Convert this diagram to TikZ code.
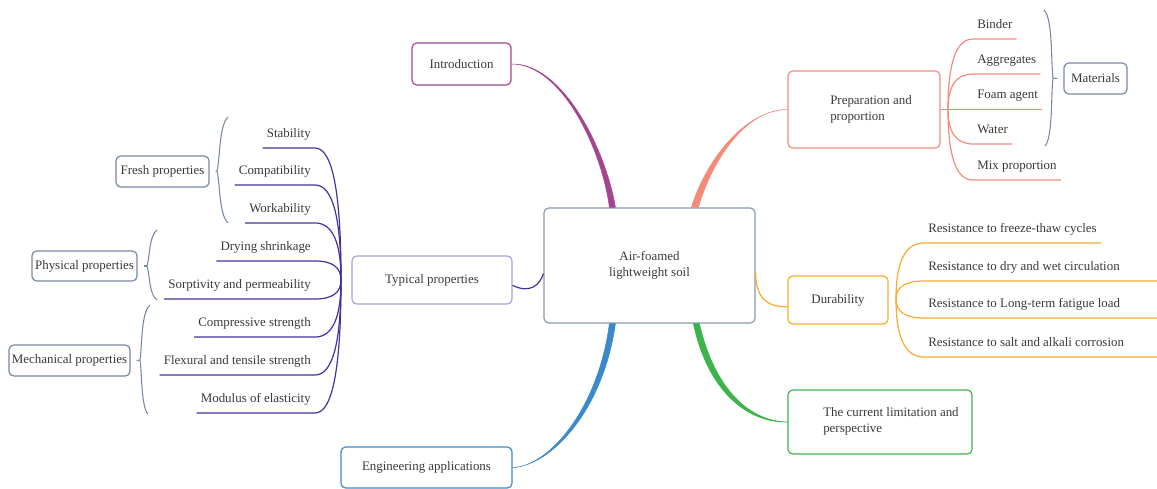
\documentclass[tikz,border=0pt]{standalone}
\usepackage{fontspec}
\setmainfont{Liberation Serif}
\usetikzlibrary{calc}

\definecolor{rootcol}{HTML}{8899AD}
\definecolor{introcol}{HTML}{A3468F}
\definecolor{prepcol}{HTML}{F48B79}
\definecolor{durcol}{HTML}{F8AA2C}
\definecolor{limcol}{HTML}{3CB44B}
\definecolor{engcol}{HTML}{3A8ACB}
\definecolor{typcol}{HTML}{A99ED6}
\definecolor{typline}{HTML}{40349A}
\definecolor{slate}{HTML}{7689A0}
\definecolor{textgray}{HTML}{383838}

\begin{document}
\begin{tikzpicture}[
    x=0.75pt, y=-0.75pt,
    every node/.style={font=\fontsize{9.7}{12}\selectfont, text=textgray},
    box/.style={draw, rounded corners=3.5pt, line width=0.9pt, inner sep=0pt, align=center},
    leaf/.style={inner xsep=3pt, inner ysep=6pt, text height=7pt, text depth=2pt},
    twig/.style={line width=0.9pt},
    bend to/.style={to path={.. controls ($(\tikztostart)!.67!(\tikztostart |- \tikztotarget)$)
        and ($(\tikztotarget)!.67!(\tikztostart |- \tikztotarget)$) .. (\tikztotarget)}},
    brace/.style={slate, line width=0.8pt}]
    \useasboundingbox (0,0) rectangle (1157,489);

    % Kaesten
    \node[box, draw=rootcol, minimum width=158.25pt, minimum height=86.25pt] (soil) at (649.5,265.5) {Air-foamed\\lightweight soil};
    \node[box, draw=introcol, minimum width=74.25pt, minimum height=31.5pt] (intro) at (461.5,64) {Introduction};
    \node[box, draw=prepcol, minimum width=114pt, minimum height=57.75pt] (prep) at (864,109.5) {};
    \node[anchor=west, align=left, inner sep=0pt] (preptext) at (830,109.5) {Preparation and\\proportion};
    \node[box, draw=durcol, minimum width=75pt, minimum height=36pt] (dur) at (838,300) {Durability};
    \node[box, draw=limcol, minimum width=138pt, minimum height=48pt] (lim) at (880,422) {};
    \node[anchor=west, align=left, inner sep=0pt] (limtext) at (823,421.5) {The current limitation and\\perspective};
    \node[box, draw=engcol, minimum width=128.25pt, minimum height=30.75pt] (eng) at (426.5,467.5) {Engineering applications};
    \node[box, draw=typcol, minimum width=120pt, minimum height=36pt] (typ) at (432,280) {Typical properties};
    \node[box, draw=slate, minimum width=47.25pt, minimum height=23.25pt] (mat) at (1095.5,78.5) {Materials};
    \node[box, draw=slate, minimum width=69.75pt, minimum height=23.25pt] (fresh) at (162.5,171.5) {Fresh properties};
    \node[box, draw=slate, minimum width=78.75pt, minimum height=22.5pt] (phys) at (84.5,266) {Physical properties};
    \node[box, draw=slate, minimum width=90.75pt, minimum height=23.25pt] (mech) at (69.5,360.5) {Mechanical properties};

    % Hauptaeste
    \fill[introcol, draw=introcol, line width=0.4pt] (intro.east) .. controls (562,64) and (602,150) .. ([xshift=49.5pt]soil.north west)
        -- ([xshift=54pt]soil.north west) .. controls (606,150) and (563,63) .. (intro.east);
    \fill[prepcol, draw=prepcol, line width=0.4pt] (prep.west) .. controls (745,110) and (706,160) .. ([xshift=111pt]soil.north west)
        -- ([xshift=116.25pt]soil.north west) .. controls (712,160) and (746,109) .. (prep.west);
    \fill[engcol, draw=engcol, line width=0.4pt] (eng.east) .. controls (548,467) and (598,410) .. ([xshift=49.5pt]soil.south west)
        -- ([xshift=54pt]soil.south west) .. controls (603,412) and (550,466) .. (eng.east);
    \fill[limcol, draw=limcol, line width=0.4pt] ([xshift=112.5pt]soil.south west) .. controls (706,385) and (743,423) .. (lim.west)
        .. controls (745,421) and (713,383) .. ([xshift=117pt]soil.south west) -- cycle;
    \draw[twig, typline] ([yshift=-4pt]typ.east) .. controls (530,294) and (540,285) .. ([yshift=-6pt]soil.west);
    \draw[twig, durcol] ([yshift=-5pt]soil.east) .. controls (756,300) and (768,307) .. ([yshift=-5pt]dur.west);

    % Preparation
    \coordinate (prephub) at (948,109.5);
    \node[leaf, anchor=south west] (binder) at (973,39) {Binder};
    \node[leaf, anchor=south west] (aggr) at (973,74) {Aggregates};
    \node[leaf, anchor=south west] (foam) at (973,109.5) {Foam agent};
    \node[leaf, anchor=south west] (water) at (973,144) {Water};
    \node[leaf, anchor=south west] (mix) at (973,180) {Mix proportion};
    \draw[twig, prepcol] (prep.east) -- (prephub);
    \draw[twig, prepcol] (prephub) to[bend to] (binder.south west) -- (binder.south east);
    \draw[twig, prepcol] (prephub) to[bend to] (aggr.south west) -- (aggr.south east);
    \draw[twig, prepcol] (prephub) -- (foam.south east);
    \draw[twig, prepcol] (prephub) to[bend to] (water.south west) -- (water.south east);
    \draw[twig, prepcol] (prephub) to[bend to] (mix.south west) -- (mix.south east);
    \draw[brace] (1044,10) .. controls (1053,18) and (1051,66) .. (1053,78) .. controls (1051,90) and (1053,138) .. (1045,146);
    \draw[brace] (1053,78) -- ([xshift=-4.5pt]mat.west);

    % Durability
    \coordinate (durhub) at (896,299);
    \coordinate (edge) at (1157,0);
    \node[leaf, anchor=south west] (frz) at (924,243) {Resistance to freeze-thaw cycles};
    \node[leaf, anchor=south west] (wet) at (924,281) {Resistance to dry and wet circulation};
    \node[leaf, anchor=south west] (fat) at (924,318) {Resistance to Long-term fatigue load};
    \node[leaf, anchor=south west] (salt) at (924,357) {Resistance to salt and alkali corrosion};
    \draw[twig, durcol] (durhub) to[bend to] (frz.south west) -- (frz.south east);
    \draw[twig, durcol] (durhub) to[bend to] (wet.south west) -- (wet.south west -| edge);
    \draw[twig, durcol] (durhub) to[bend to] (fat.south west) -- (fat.south west -| edge);
    \draw[twig, durcol] (durhub) to[bend to] (salt.south west) -- (salt.south west -| edge);

    % Typical properties
    \coordinate (typhub) at (341,280);
    \node[leaf, anchor=south east] (stab) at (315,148) {Stability};
    \node[leaf, anchor=south east] (compat) at (315,185) {Compatibility};
    \node[leaf, anchor=south east] (work) at (315,223) {Workability};
    \node[leaf, anchor=south east] (dry) at (315,261) {Drying shrinkage};
    \node[leaf, anchor=south east] (sorp) at (315,299) {Sorptivity and permeability};
    \node[leaf, anchor=south east] (comp) at (315,337) {Compressive strength};
    \node[leaf, anchor=south east] (flex) at (315,375) {Flexural and tensile strength};
    \node[leaf, anchor=south east] (modul) at (315,413) {Modulus of elasticity};
    \draw[twig, typline] (typhub) to[bend to] (stab.south east) -- (stab.south west);
    \draw[twig, typline] (typhub) to[bend to] (compat.south east) -- (compat.south west);
    \draw[twig, typline] (typhub) to[bend to] (work.south east) -- (work.south west);
    \draw[twig, typline] (typhub) to[bend to] (dry.south east) -- (dry.south west);
    \draw[twig, typline] (typhub) to[bend to] (sorp.south east) -- (sorp.south west);
    \draw[twig, typline] (typhub) to[bend to] (comp.south east) -- (comp.south west);
    \draw[twig, typline] (typhub) to[bend to] (flex.south east) -- (flex.south west);
    \draw[twig, typline] (typhub) to[bend to] (modul.south east) -- (modul.south west);

    % Klammern
    \draw[brace] (228,117) .. controls (219,125) and (220,160) .. (217,171) .. controls (220,182) and (219,215) .. (228,223);
    \draw[brace] (217,171) -- ([xshift=4.5pt]fresh.east);
    \draw[brace] (157,230) .. controls (149,236) and (150,256) .. (147,266) .. controls (150,276) and (149,294) .. (157,300);
    \draw[brace] (147,266) -- ([xshift=5pt]phys.east);
    \draw[brace] (150,305) .. controls (141,312) and (142,348) .. (140,360) .. controls (142,372) and (141,407) .. (148,414);
    \draw[brace] (140,360) -- ([xshift=4.5pt]mech.east);
\end{tikzpicture}
\end{document}
